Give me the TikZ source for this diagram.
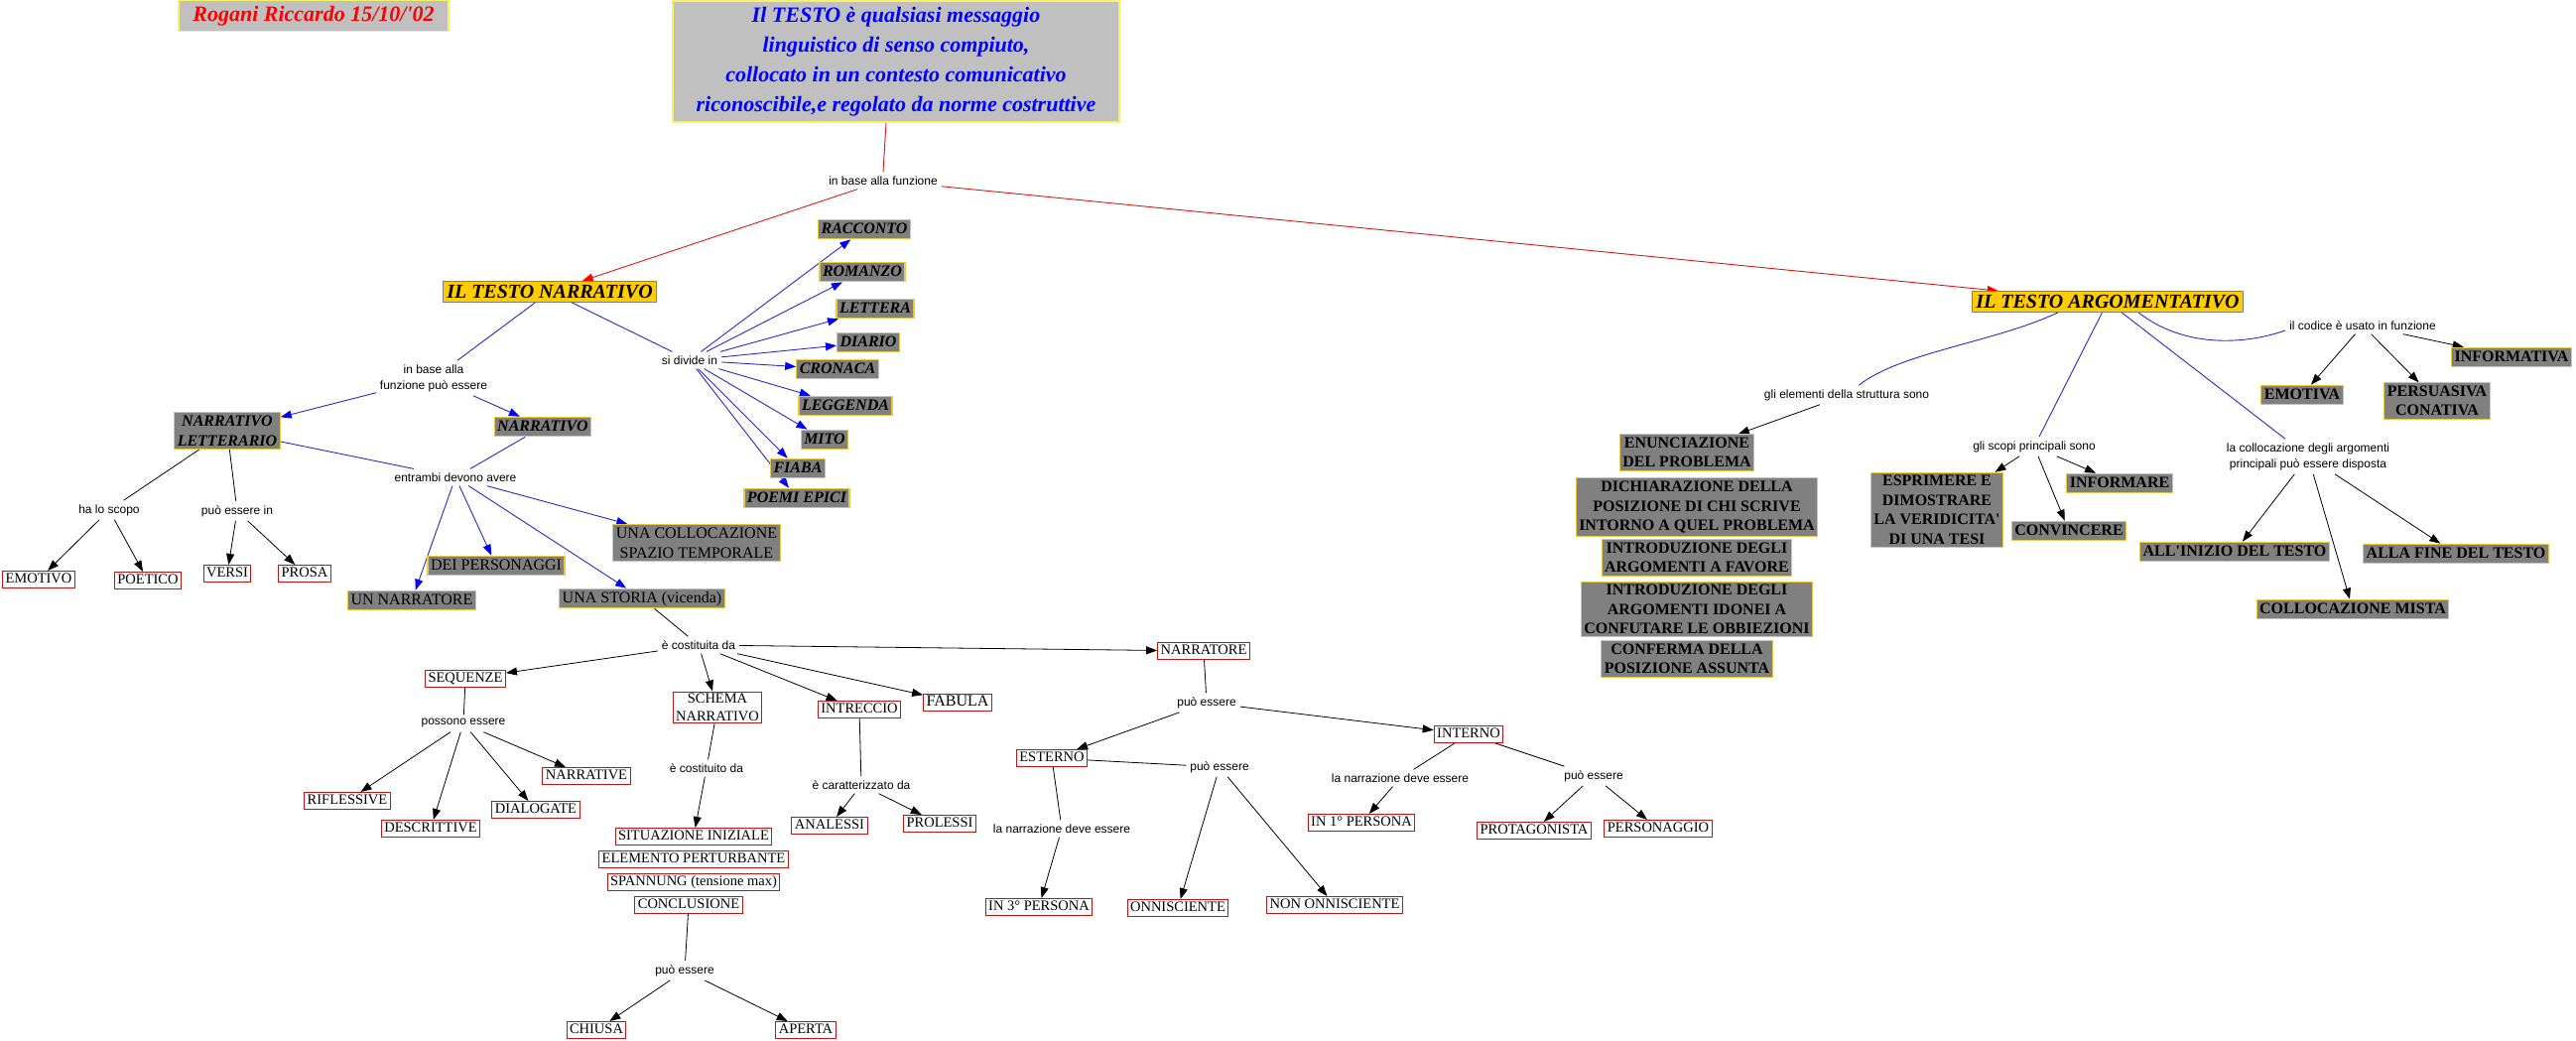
\documentclass[tikz,border=0pt]{standalone}
\usepackage{fontspec}
\setmainfont{Liberation Serif}
\newfontfamily\lblfont{Liberation Sans}
\usetikzlibrary{arrows.meta,backgrounds}
\definecolor{silver}{RGB}{192,192,192}
\definecolor{paleyellow}{RGB}{250,240,100}
\definecolor{topicfill}{RGB}{255,204,0}
\definecolor{boxgray}{RGB}{128,128,128}
\definecolor{goldedge}{RGB}{232,200,70}
\definecolor{boxred}{RGB}{195,20,20}
\definecolor{linkblue}{RGB}{40,40,205}
\definecolor{linkred}{RGB}{220,20,20}

\begin{document}
\begin{tikzpicture}[x=1pt,y=-1pt,
	>={Triangle[length=11pt,width=8pt]},
	main/.style={draw=paleyellow, line width=1.2pt, fill=silver, text=blue, align=center,
		font=\fontsize{22}{30}\selectfont\bfseries\itshape, minimum width=450pt, minimum height=122pt},
	autore/.style={draw=paleyellow, line width=1.2pt, fill=silver, text=red, inner sep=2pt,
		font=\fontsize{22}{26}\selectfont\bfseries\itshape, minimum width=272pt, minimum height=31pt},
	topic/.style={draw=gray, line width=0.8pt, fill=topicfill, inner xsep=4pt, inner ysep=2.5pt,
		text height=14pt, text depth=2pt, font=\fontsize{20}{24}\selectfont\bfseries\itshape},
	gbox/.style={draw=goldedge, line width=1.1pt, fill=boxgray, align=center, inner xsep=3pt, inner ysep=3pt},
	gbi/.style={gbox, font=\fontsize{16}{20}\selectfont\bfseries\itshape},
	gn/.style={gbox, font=\fontsize{16}{20}\selectfont},
	gb/.style={gbox, font=\fontsize{16}{19.5}\selectfont\bfseries},
	one/.style={text height=11.5pt, text depth=3pt, inner ysep=2.5pt},
	rbox/.style={draw=boxred, line width=1pt, fill=white, align=center, inner xsep=3pt, inner ysep=2pt,
		font=\fontsize{14.5}{18}\selectfont},
	rone/.style={rbox, text height=10pt, text depth=3pt},
	lbl/.style={font=\lblfont\fontsize{12}{16}\selectfont, align=center, inner sep=4pt},
	redl/.style={draw=linkred, line width=0.9pt},
	redarr/.style={redl, ->, >={Triangle[length=11pt,width=8pt,color=red]}},
	bluel/.style={draw=linkblue, line width=0.9pt},
	bluearr/.style={bluel, ->, >={Triangle[length=11pt,width=8pt,color=blue]}},
	blk/.style={draw=black, line width=0.8pt},
	blkarr/.style={blk, ->}]

	\useasboundingbox (0,0) rectangle (2596,1049);

	\node[autore] (firma) at (316,16) {Rogani Riccardo 15/10/\textquotesingle02};
	\node[main] (testo) at (903,62) {Il TESTO è qualsiasi messaggio\\linguistico di senso compiuto,\\collocato in un contesto comunicativo\\riconoscibile,e regolato da norme costruttive};
	\node[lbl] (funz) at (890,182) {in base alla funzione};
	\node[topic] (narr) at (554,294) {IL TESTO NARRATIVO};
	\node[topic] (arg) at (2124,304) {IL TESTO ARGOMENTATIVO};

	\node[lbl] (funzpuo) at (437,381) {in base alla\\funzione può essere};
	\node[lbl] (divide) at (695,363) {si divide in};
	\node[gbi,one] (racconto) at (871,231) {RACCONTO};
	\node[gbi,one] (romanzo) at (869,274) {ROMANZO};
	\node[gbi,one] (lettera) at (882,311) {LETTERA};
	\node[gbi,one] (diario) at (875,345) {DIARIO};
	\node[gbi,one] (cronaca) at (844,372) {CRONACA};
	\node[gbi,one] (leggenda) at (852,409) {LEGGENDA};
	\node[gbi,one] (mito) at (831,443) {MITO};
	\node[gbi,one] (fiaba) at (804,472) {FIABA};
	\node[gbi,one] (poemi) at (803,502) {POEMI EPICI};

	\node[gbi] (letterario) at (229,434) {NARRATIVO\\LETTERARIO};
	\node[gbi,one] (narrativo) at (547,430) {NARRATIVO};
	\node[lbl] (entrambi) at (459,481) {entrambi devono avere};
	\node[lbl] (scopo) at (110,514) {ha lo scopo};
	\node[lbl] (essin) at (239,515) {può essere in};
	\node[rone] (emotivo) at (39,584) {EMOTIVO};
	\node[rone] (poetico) at (149,585) {POETICO};
	\node[rone] (versi) at (229,578) {VERSI};
	\node[rone] (prosa) at (307,578) {PROSA};
	\node[gn,one] (unnarr) at (415,605) {UN NARRATORE};
	\node[gn,one] (personaggi) at (500,570) {DEI PERSONAGGI};
	\node[gn,one] (storia) at (647,603) {UNA STORIA (vicenda)};
	\node[gn] (spazio) at (702,547) {UNA COLLOCAZIONE\\SPAZIO TEMPORALE};

	\node[lbl] (costituita) at (704,650) {è costituita da};
	\node[rone] (sequenze) at (469,684) {SEQUENZE};
	\node[rbox] (schema) at (723,713) {SCHEMA\\NARRATIVO};
	\node[rone] (intreccio) at (866,715) {INTRECCIO};
	\node[rone, font=\fontsize{16}{18}\selectfont] (fabula) at (965,708) {FABULA};
	\node[rone] (narratore) at (1213,656) {NARRATORE};

	\node[lbl] (possono) at (467,729) {possono essere};
	\node[rone] (riflessive) at (350,807) {RIFLESSIVE};
	\node[rone] (descrittive) at (434,835) {DESCRITTIVE};
	\node[rone] (dialogate) at (540,816) {DIALOGATE};
	\node[rone] (narrative) at (591,782) {NARRATIVE};

	\node[lbl] (costituito) at (712,774) {è costituito da};
	\node[rone] (situazione) at (699,843) {SITUAZIONE INIZIALE};
	\node[rone] (elemento) at (699,866) {ELEMENTO PERTURBANTE};
	\node[rone] (spannung) at (699,889) {SPANNUNG (tensione max)};
	\node[rone] (conclusione) at (694,912) {CONCLUSIONE};
	\node[lbl] (puofine) at (690,978) {può essere};
	\node[rone] (chiusa) at (601,1038) {CHIUSA};
	\node[rone] (aperta) at (812,1038) {APERTA};

	\node[lbl] (caratt) at (868,791) {è caratterizzato da};
	\node[rone] (analessi) at (836,832) {ANALESSI};
	\node[rone] (prolessi) at (947,830) {PROLESSI};

	\node[lbl] (puonarr) at (1216,708) {può essere};
	\node[rone] (esterno) at (1060,764) {ESTERNO};
	\node[rone] (interno) at (1480,740) {INTERNO};
	\node[lbl] (puoest) at (1229,773) {può essere};
	\node[lbl] (devest) at (1070,835) {la narrazione deve essere};
	\node[rone] (terza) at (1047,914) {IN 3° PERSONA};
	\node[rone] (onnisc) at (1187,915) {ONNISCIENTE};
	\node[rone] (nononnisc) at (1345,912) {NON ONNISCIENTE};
	\node[lbl] (devint) at (1411,784) {la narrazione deve essere};
	\node[lbl] (puoint) at (1606,782) {può essere};
	\node[rone] (prima) at (1372,829) {IN 1° PERSONA};
	\node[rone] (protag) at (1546,837) {PROTAGONISTA};
	\node[rone] (personaggio) at (1671,835) {PERSONAGGIO};

	\node[lbl] (elementi) at (1861,398) {gli elementi della struttura sono};
	\node[gb] (enunc) at (1700,456) {ENUNCIAZIONE\\DEL PROBLEMA};
	\node[gb] (dichiar) at (1710,511) {DICHIARAZIONE DELLA\\POSIZIONE DI CHI SCRIVE\\INTORNO A QUEL PROBLEMA};
	\node[gb] (favore) at (1710,562) {INTRODUZIONE DEGLI\\ARGOMENTI A FAVORE};
	\node[gb] (confut) at (1710,614) {INTRODUZIONE DEGLI\\ARGOMENTI IDONEI A\\CONFUTARE LE OBBIEZIONI};
	\node[gb] (conferma) at (1700,664) {CONFERMA DELLA\\POSIZIONE ASSUNTA};

	\node[lbl] (scopi) at (2050,450) {gli scopi principali sono};
	\node[gb] (esprimere) at (1952,514) {ESPRIMERE E\\DIMOSTRARE\\LA VERIDICITA\textquotesingle\\DI UNA TESI};
	\node[gb,one] (informare) at (2136,487) {INFORMARE};
	\node[gb,one] (convincere) at (2085,535) {CONVINCERE};

	\node[lbl] (disposta) at (2326,460) {la collocazione degli argomenti\\principali può essere disposta};
	\node[gb,one] (inizio) at (2252,556) {ALL\textquotesingle INIZIO DEL TESTO};
	\node[gb,one] (fine) at (2475,558) {ALLA FINE DEL TESTO};
	\node[gb,one] (mista) at (2371,614) {COLLOCAZIONE MISTA};

	\node[lbl] (codice) at (2381,328) {il codice è usato in funzione};
	\node[gb,one] (emotiva) at (2320,398) {EMOTIVA};
	\node[gb] (persuasiva) at (2456,404) {PERSUASIVA\\CONATIVA};
	\node[gb,one] (informativa) at (2531,360) {INFORMATIVA};

	\begin{scope}[on background layer]
		\fill[white] (0,0) rectangle (2596,1049);

		\draw[redl] ([xshift=-10pt]testo.south) -- (funz.north);
		\draw[redarr] (funz) -- (narr);
		\draw[redarr] (funz) -- (arg);

		\draw[bluel] (narr) -- (funzpuo);
		\draw[bluel] (narr) -- (divide);
		\draw[bluearr] (funzpuo) -- (letterario);
		\draw[bluearr] (funzpuo) -- (narrativo);
		\foreach \g in {racconto,romanzo,lettera,diario,cronaca,leggenda,mito,fiaba,poemi}
			\draw[bluearr] (divide) -- (\g);
		\draw[bluel] (letterario) -- (entrambi);
		\draw[bluel] (narrativo) -- (entrambi);
		\foreach \g in {unnarr,personaggi,storia,spazio}
			\draw[bluearr] (entrambi) -- (\g);

		\draw[blk] (letterario) -- (scopo);
		\draw[blk] (letterario) -- (essin);
		\draw[blkarr] (scopo) -- (emotivo);
		\draw[blkarr] (scopo) -- (poetico);
		\draw[blkarr] (essin) -- (versi);
		\draw[blkarr] (essin) -- (prosa);

		\draw[blk] (storia) -- (costituita);
		\foreach \g in {sequenze,schema,intreccio,fabula,narratore}
			\draw[blkarr] (costituita) -- (\g);
		\draw[blk] (sequenze) -- (possono);
		\foreach \g in {riflessive,descrittive,dialogate,narrative}
			\draw[blkarr] (possono) -- (\g);
		\draw[blk] (schema) -- (costituito);
		\draw[blkarr] (costituito) -- (situazione);
		\draw[blk] (conclusione) -- (puofine);
		\draw[blkarr] (puofine) -- (chiusa);
		\draw[blkarr] (puofine) -- (aperta);
		\draw[blk] (intreccio) -- (caratt);
		\draw[blkarr] (caratt) -- (analessi);
		\draw[blkarr] (caratt) -- (prolessi);

		\draw[blk] (narratore) -- (puonarr);
		\draw[blkarr] (puonarr) -- (esterno);
		\draw[blkarr] (puonarr) -- (interno);
		\draw[blk] (esterno) -- (puoest);
		\draw[blkarr] (puoest) -- (onnisc);
		\draw[blkarr] (puoest) -- (nononnisc);
		\draw[blk] (esterno) -- (devest);
		\draw[blkarr] (devest) -- (terza);
		\draw[blk] (interno) -- (devint);
		\draw[blkarr] (devint) -- (prima);
		\draw[blk] (interno) -- (puoint);
		\draw[blkarr] (puoint) -- (protag);
		\draw[blkarr] (puoint) -- (personaggio);

		\draw[bluel] ([xshift=-50pt]arg.south) .. controls (2010,345) and (1915,355) .. (elementi);
		\draw[bluel] (arg) -- (scopi);
		\draw[bluel] (arg) -- (disposta);
		\draw[bluel] ([xshift=31pt]arg.south) .. controls (2200,350) and (2260,348) .. ([yshift=-5pt]codice.west);

		\draw[blkarr] (elementi) -- (enunc);
		\draw[blkarr] (scopi) -- (esprimere);
		\draw[blkarr] (scopi) -- (convincere);
		\draw[blkarr] (scopi) -- (informare);
		\draw[blkarr] (disposta) -- (inizio);
		\draw[blkarr] (disposta) -- (mista);
		\draw[blkarr] (disposta) -- (fine);
		\draw[blkarr] (codice) -- (emotiva);
		\draw[blkarr] (codice) -- (persuasiva);
		\draw[blkarr] (codice) -- (informativa);
	\end{scope}
\end{tikzpicture}
\end{document}
